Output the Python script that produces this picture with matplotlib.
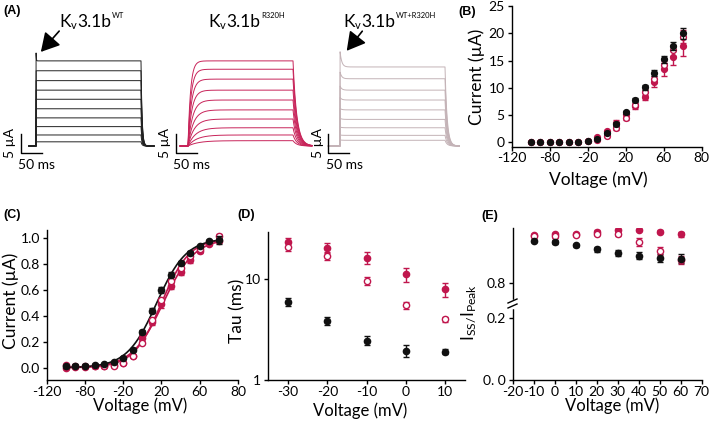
import numpy as np
import matplotlib
matplotlib.use('Agg')
import matplotlib.pyplot as plt
from matplotlib.patches import FancyArrowPatch
from matplotlib.lines import Line2D
from matplotlib.ticker import NullLocator

plt.rcParams['font.family'] = ['Lato', 'DejaVu Sans']
plt.rcParams['mathtext.default'] = 'regular'
plt.rcParams['axes.linewidth'] = 1.0
plt.rcParams['xtick.major.size'] = 3
plt.rcParams['ytick.major.size'] = 3
plt.rcParams['xtick.labelsize'] = 10
plt.rcParams['ytick.labelsize'] = 10

W, H = 709, 422
BLACK = '#111111'
RED = '#c0164d'
HET = '#c4b3b7'

# (A) steady-state sweep amplitudes (uA)
wt_levels = [22.4, 19.8, 17.2, 14.7, 12.3, 9.8, 7.4, 5.1, 2.9, 1.1]
wt_onset_peak = 25.3
mut_levels = [22.4, 20.2, 17.6, 14.7, 12.1, 9.5, 7.1, 4.8, 2.9, 1.4]
mut_tau = [6, 7, 8, 9, 11, 13, 15, 18, 21, 25]          # activation, ms
het_levels = [20.8, 17.7, 14.7, 12.1, 9.5, 7.0, 4.8, 2.8, 1.5]
het_peaks = [25.0, 19.5, 15.8, 12.8, 9.9, 7.3, 5.0, 2.9, 1.6]
step_ms = 250

# (B) current-voltage
iv_volt = [-100, -90, -80, -70, -60, -50, -40, -30, -20, -10, 0, 10, 20, 30, 40, 50, 60]
iv_wt = [0, 0, 0, 0, 0, 0, 0.2, 0.7, 1.7, 3.3, 5.5, 7.7, 10.1, 12.7, 15.2, 17.7, 20.0]
iv_wt_err = [0.05] * 6 + [0.1, 0.15, 0.2, 0.35, 0.3, 0.35, 0.5, 0.55, 0.6, 0.7, 1.0]
iv_mut = [0, 0, 0, 0, 0, 0, 0.3, 0.9, 2.0, 3.6, 5.2, 6.6, 8.4, 11.0, 13.4, 15.6, 17.7]
iv_mut_err = [0.05] * 6 + [0.1, 0.15, 0.25, 0.45, 0.35, 0.45, 0.7, 0.8, 1.2, 1.4, 1.8]
iv_het = [0, 0, 0, 0, 0, 0, 0.2, 0.5, 1.1, 2.6, 4.4, 6.8, 9.2, 11.6, 14.2, 16.9, 19.4]
iv_het_err = [0.05] * 6 + [0.1, 0.15, 0.2, 0.3, 0.3, 0.35, 0.5, 0.6, 0.8, 1.0, 1.2]
iv_xticks = [-120, -80, -40, 0, 40, 80]
iv_xlabels = ['-120', '-80', '-20', '20', '60', '80']

# (C) normalised conductance
gv_wt = [0.01, 0.015, 0.015, 0.02, 0.03, 0.045, 0.075, 0.14, 0.275, 0.44, 0.60, 0.72, 0.81, 0.885, 0.94, 0.98, 0.985]
gv_wt_err = [0.01] * 8 + [0.015, 0.02, 0.02, 0.02, 0.015, 0.015, 0.01, 0.01, 0.03]
gv_mut = [0.0, 0.005, 0.005, 0.01, 0.015, 0.02, 0.04, 0.09, 0.23, 0.35, 0.49, 0.63, 0.74, 0.83, 0.90, 0.955, 0.98]
gv_mut_err = [0.01] * 8 + [0.02, 0.02, 0.025, 0.025, 0.02, 0.02, 0.015, 0.01, 0.01]
gv_het = [0.02, 0.01, 0.01, 0.01, 0.01, 0.015, 0.035, 0.09, 0.19, 0.37, 0.52, 0.67, 0.77, 0.86, 0.92, 0.97, 1.02]
gv_het_err = [0.01] * 17

# (D) activation time constants
tau_volt = [-30, -20, -10, 0, 10]
tau_wt = [5.96, 3.86, 2.45, 1.95, 1.91]
tau_wt_err = [0.5, 0.35, 0.25, 0.25, 0.12]
tau_mut = [23.0, 20.4, 16.3, 11.1, 7.9]
tau_mut_err = [2.5, 2.5, 2.2, 1.8, 1.3]
tau_het = [20.9, 16.9, 9.55, 5.53, 4.0]
tau_het_err = [2.0, 1.6, 0.9, 0.45, 0.25]

# (E) Iss / Ipeak
inact_volt = [-10, 0, 10, 20, 30, 40, 50, 60]
inact_wt = [0.936, 0.932, 0.922, 0.908, 0.897, 0.888, 0.881, 0.878]
inact_wt_err = [0.004, 0.005, 0.005, 0.008, 0.009, 0.011, 0.013, 0.014]
inact_mut = [0.955, 0.958, 0.959, 0.966, 0.971, 0.971, 0.966, 0.957]
inact_mut_err = [0.003, 0.003, 0.003, 0.004, 0.004, 0.004, 0.005, 0.008]
inact_het = [0.951, 0.950, 0.955, 0.959, 0.959, 0.932, 0.904, 0.874]
inact_het_err = [0.003, 0.004, 0.004, 0.005, 0.006, 0.012, 0.013, 0.012]
break_shift = 0.484


def box(l, t, r, b):
    return [l / W, 1 - b / H, (r - l) / W, (b - t) / H]


def ftext(x, y, s, **kw):
    return fig.text(x / W, 1 - y / H, s, **kw)


def rich(x, y, parts, renderer):
    for s, size, dy in parts:
        t = fig.text(x / W, 1 - (y + dy) / H, s, fontsize=size, va='baseline')
        x = t.get_window_extent(renderer).x1 + 0.5


def series(ax, x, y, e, kind, ms=4.3, z=3):
    if kind == 'wt':
        kw = dict(color=BLACK, mfc=BLACK, mec=BLACK)
    elif kind == 'mut':
        kw = dict(color=RED, mfc=RED, mec=RED)
    else:
        kw = dict(color=RED, mfc='white', mec=RED, mew=1.0)
    ax.errorbar(x, y, yerr=e, fmt='o', ms=ms, elinewidth=1, capsize=2,
                capthick=1, zorder=z, **kw)


def style(ax):
    for s in ['top', 'right']:
        ax.spines[s].set_visible(False)
    ax.tick_params(direction='out', width=1, pad=2)
    ax.tick_params(axis='x', pad=1)


def boltz_fit(v, g):
    v = np.asarray(v, float)
    g = np.asarray(g, float)
    best = None
    for vh in np.arange(-40, 40, 0.25):
        for k in np.arange(5, 25, 0.1):
            err = np.sum((g - 1 / (1 + np.exp((vh - v) / k))) ** 2)
            if best is None or err < best[0]:
                best = (err, vh, k)
    return best[1], best[2]


fig = plt.figure(figsize=(W / 100, H / 100), dpi=100)
rend = fig.canvas.get_renderer()

# ---------------- (A) current traces ----------------
px_ms, px_ua = 0.42, 3.8
axA = fig.add_axes(box(0, 30, 460, 175))
axA.axis('off')
axA.set_xlim(0, 460 / px_ms)
axA.set_ylim((146 - 175) / px_ua, (146 - 30) / px_ua)

t = np.arange(-30, 300, 0.2)
tt = np.clip(t, 0, None)
on = (t >= 0) & (t < step_ms)
after = t >= step_ms
ta = np.clip(t - step_ms, 0, None)

# WT
t0 = 36 / px_ms
win = (t >= -17) & (t <= step_ms + 31)
for i, L in enumerate(wt_levels):
    extra = (wt_onset_peak - L) if i == 0 else 0
    y = np.where(on, L + extra * np.exp(-tt / 0.6), 0) + np.where(after, L * np.exp(-ta / 2.5), 0)
    axA.plot(t[win] + t0, y[win], color='#222222', lw=0.7)
# R320H
t1 = 188 / px_ms
win = (t >= -19) & (t <= step_ms + 45)
for L, tau in zip(mut_levels, mut_tau):
    y = np.where(on, L * (1 - np.exp(-tt / tau)), 0) + np.where(after, L * np.exp(-ta / 9), 0)
    axA.plot(t[win] + t1, y[win], color='#c8245a', lw=0.7)
# WT + R320H
t2 = 340 / px_ms
win = (t >= -28) & (t <= step_ms + 45)
for L, P in zip(het_levels, het_peaks):
    y = np.where(on, L + (P - L) * np.exp(-tt / 4), 0) + np.where(after, L * np.exp(-ta / 5), 0)
    axA.plot(t[win] + t2, y[win], color=HET, lw=0.7)

# scale bars
for start, off in [(t0, -15.3), (t1, -12.3), (t2, -11.7)]:
    cx = start + off / px_ms
    cy = (146 - 153.3) / px_ua
    axA.plot([cx, cx, cx + 50], [cy + 5, cy, cy], color='k', lw=1, clip_on=False)
    axA.text(cx - 10.5 / px_ms, cy + 2.6, '5 µA', rotation=90, ha='center', va='center', fontsize=10)
    axA.text(cx - 2.5 / px_ms, cy - 3.1, '50 ms', ha='left', va='center', fontsize=10)

rich(59, 27, [('K', 12.5, 0), ('v', 8, 2), ('3.1b', 12.5, 0), ('WT', 5.5, -9)], rend)
rich(208, 27, [('K', 12.5, 0), ('v', 8, 2), ('3.1b', 12.5, 0), ('R320H', 5.5, -9)], rend)
rich(343, 27, [('K', 12.5, 0), ('v', 8, 2), ('3.1b', 12.5, 0), ('WT+R320H', 5.5, -9)], rend)
for tail, head in [((61, 29), (39, 54)), ((364, 29), (345, 53))]:
    fig.add_artist(FancyArrowPatch((tail[0] / W, 1 - tail[1] / H), (head[0] / W, 1 - head[1] / H),
                                   transform=fig.transFigure, arrowstyle='-|>,head_length=0.8,head_width=0.45',
                                   mutation_scale=14, lw=1.2, color='k'))

# ---------------- (B) I-V ----------------
axB = fig.add_axes(box(511.7, 6, 701.7, 146.7))
style(axB)
series(axB, iv_volt, iv_mut, iv_mut_err, 'mut', ms=4.2)
series(axB, iv_volt, iv_het, iv_het_err, 'het', ms=4.2)
series(axB, iv_volt, iv_wt, iv_wt_err, 'wt', ms=4.2, z=4)
axB.set_xlim(-120, 80)
axB.set_ylim(-0.8, 25)
axB.set_xticks(iv_xticks, iv_xlabels)
axB.set_yticks([0, 5, 10, 15, 20, 25])
ftext(477, 77, 'Current (µA)', rotation=90, ha='center', va='center', fontsize=12.5)
ftext(598, 180, 'Voltage (mV)', ha='center', va='center', fontsize=12.5)

# ---------------- (C) G-V ----------------
axC = fig.add_axes(box(46.7, 230, 238, 380))
style(axC)
vv = np.linspace(-100, 60, 200)
for g, c in [(gv_mut, RED), (gv_het, RED), (gv_wt, BLACK)]:
    vh, k = boltz_fit(iv_volt, g)
    axC.plot(vv, 1 / (1 + np.exp((vh - vv) / k)), color=c, lw=1.2, zorder=2)
series(axC, iv_volt, gv_mut, gv_mut_err, 'mut', ms=4.5)
series(axC, iv_volt, gv_het, gv_het_err, 'het', ms=4.5)
series(axC, iv_volt, gv_wt, gv_wt_err, 'wt', ms=4.5, z=4)
axC.set_xlim(-120, 80)
axC.set_ylim(-0.095, 1.064)
axC.set_xticks(iv_xticks, iv_xlabels)
axC.set_yticks([0, 0.2, 0.4, 0.6, 0.8, 1.0], ['0.0', '0.2', '0.4', '0.6', '0.8', '1.0'])
ftext(11, 301, 'Current (µA)', rotation=90, ha='center', va='center', fontsize=12.5)
ftext(140, 406, 'Voltage (mV)', ha='center', va='center', fontsize=12)

# ---------------- (D) tau ----------------
axD = fig.add_axes(box(268.3, 231.7, 465, 380))
style(axD)
axD.set_yscale('log')
series(axD, tau_volt, tau_mut, tau_mut_err, 'mut', ms=4.5)
series(axD, tau_volt, tau_het, tau_het_err, 'het', ms=4.5)
series(axD, tau_volt, tau_wt, tau_wt_err, 'wt', ms=4.5)
axD.set_xlim(-35, 15)
axD.set_ylim(1, 29.4)
axD.set_xticks(tau_volt, ['-30', '-20', '-10', '0', '10'])
axD.set_yticks([1, 10], ['1', '10'])
axD.yaxis.set_minor_locator(NullLocator())
ftext(237, 311, 'Tau (ms)', rotation=90, ha='center', va='center', fontsize=12.5)
ftext(360, 411, 'Voltage (mV)', ha='center', va='center', fontsize=12)

# ---------------- (E) Iss/Ipeak, broken axis ----------------
axE = fig.add_axes(box(512.7, 228.3, 701.7, 380))
style(axE)
shift = lambda v: [x - break_shift if x > 0.5 else x for x in v]
series(axE, inact_volt, shift(inact_mut), inact_mut_err, 'mut', ms=4.5)
series(axE, inact_volt, shift(inact_het), inact_het_err, 'het', ms=4.5)
series(axE, inact_volt, shift(inact_wt), inact_wt_err, 'wt', ms=4.5)
axE.set_xlim(-20, 70)
axE.set_ylim(0, 0.4925)
axE.set_xticks(range(-20, 71, 10), [str(v) for v in range(-20, 71, 10)])
axE.set_yticks([0, 0.2, 0.8 - break_shift], ['0. 0', '0.2', '0.8'])
# break marks on the y spine
fig.add_artist(Line2D([512.7 / W] * 2, [1 - 301 / H, 1 - 307 / H], color='white', lw=2.5, transform=fig.transFigure))
for yb in (301, 306):
    fig.add_artist(Line2D([508 / W, 517 / W], [1 - (yb + 2) / H, 1 - (yb - 2) / H],
                          color='k', lw=1, transform=fig.transFigure))
ftext(468, 312, r'I$_{SS/}$I$_{Peak}$', rotation=90, ha='center', va='center', fontsize=12.5)
ftext(612, 406, 'Voltage (mV)', ha='center', va='center', fontsize=12)

# panel letters
for lab, x, y in [('(A)', 3, 14), ('(B)', 458, 15), ('(C)', 3, 218), ('(D)', 237, 218), ('(E)', 481, 219)]:
    ftext(x, y, lab, fontsize=9, fontweight='bold', family='Liberation Sans', va='baseline')

fig.savefig('out.png', dpi=100)
